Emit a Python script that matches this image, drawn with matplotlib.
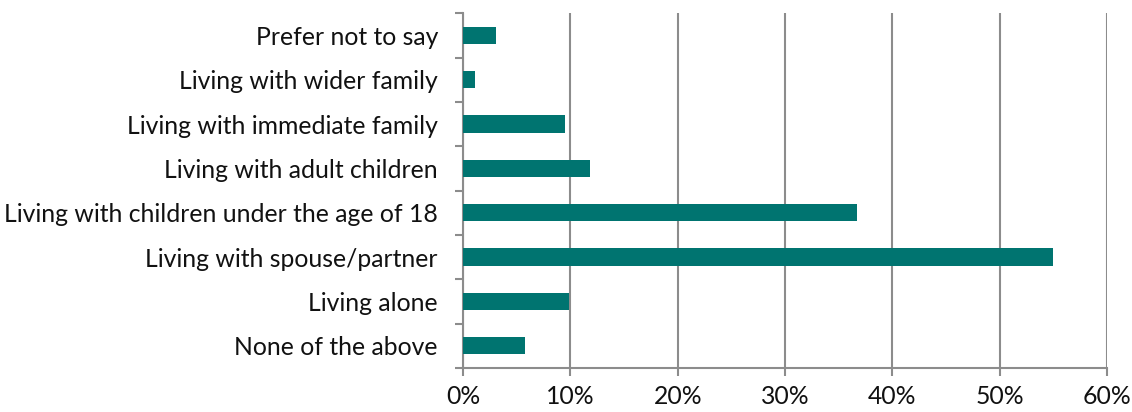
import numpy as np
import matplotlib.pyplot as plt
from matplotlib.ticker import FuncFormatter, FixedLocator

plt.rcParams['font.family'] = ['Lato', 'DejaVu Sans']

categories = ['None of the above', 'Living alone', 'Living with spouse/partner',
              'Living with children under the age of 18', 'Living with adult children',
              'Living with immediate family', 'Living with wider family', 'Prefer not to say']
values = [5.75, 9.9, 55.0, 36.7, 11.8, 9.5, 1.15, 3.1]
x_ticks = [0, 10, 20, 30, 40, 50, 60]

teal = '#007470'
grey = '#8c8c8c'

fig, ax = plt.subplots(figsize=(11.32, 4.12), dpi=100)
fig.subplots_adjust(left=0.409, right=0.978, top=0.968, bottom=0.107)

y = np.arange(len(categories))
ax.barh(y, values, height=0.39, color=teal, zorder=3)

ax.set_xlim(0, 60)
ax.set_ylim(-0.5, len(categories) - 0.5)
ax.set_xticks(x_ticks)
ax.xaxis.set_major_formatter(FuncFormatter(lambda v, p: f'{v:.0f}%'))
ax.set_yticks(y)
ax.set_yticklabels(categories)
ax.yaxis.set_minor_locator(FixedLocator(np.arange(-0.5, len(categories), 1)))

ax.grid(axis='x', color=grey, linewidth=1.5, zorder=0)
ax.grid(axis='y', visible=False)

for s in ['top', 'right']:
    ax.spines[s].set_visible(False)
for s in ['left', 'bottom']:
    ax.spines[s].set_color(grey)
    ax.spines[s].set_linewidth(1.5)

ax.tick_params(axis='y', which='major', length=0, pad=18, labelsize=17.8, labelcolor='#111111')
ax.tick_params(axis='y', which='minor', length=6, width=1.5, color=grey, direction='out')
ax.tick_params(axis='x', which='major', length=6, width=1.5, color=grey, direction='out',
               pad=6, labelsize=17.8, labelcolor='#111111')

plt.savefig('out.png', dpi=100)
